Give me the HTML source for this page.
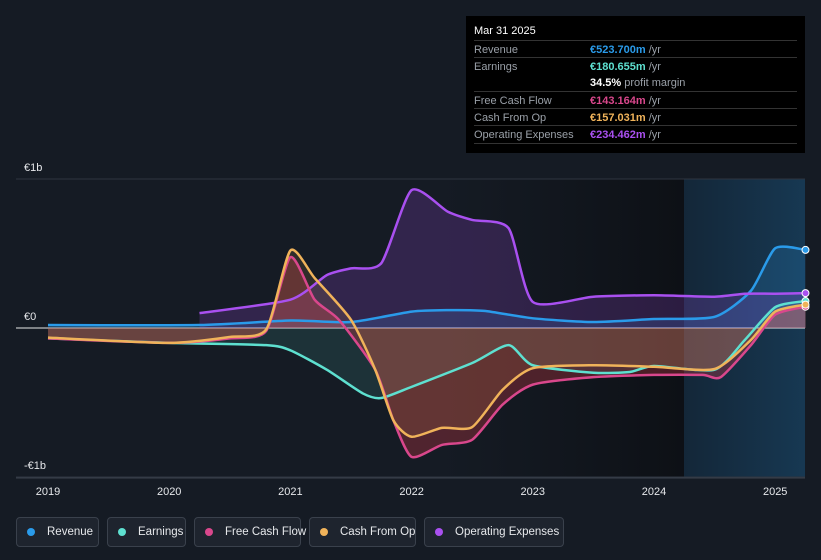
<!DOCTYPE html>
<html><head><meta charset="utf-8">
<style>
body{margin:0;background:#151b24;font-family:"Liberation Sans",sans-serif;}
#wrap{position:relative;width:821px;height:560px;overflow:hidden;background:#151b24;}
#tip{position:absolute;left:466px;top:16px;width:339px;height:137px;background:#000;color:#fff;font-size:11px;}
#tip .h{position:absolute;left:8px;top:9px;font-size:11px;}
#tip .r{position:absolute;left:8px;width:323px;height:17px;border-top:1px solid #333;}
#tip .r span.l{position:absolute;left:0;top:3px;color:#9aa0a8;}
#tip .r span.v{position:absolute;left:116px;top:3px;color:#9aa0a8;}
#legend{position:absolute;left:16px;top:517px;height:30px;}
.lg{position:absolute;top:0;height:30px;border:1px solid #3a414c;border-radius:4px;background:#1e242e;color:#e6e8eb;font-size:11.5px;display:flex;align-items:center;padding:0 0 0 10px;box-sizing:border-box;white-space:nowrap;}
.lg i{flex-shrink:0;width:8px;height:8px;border-radius:50%;display:inline-block;margin-right:12px;}
</style></head><body>
<div id="wrap">
<svg id="svg" width="821" height="560" style="position:absolute;left:0;top:0">
<defs>
<linearGradient id="fc" x1="0" y1="0" x2="1" y2="0"><stop offset="0" stop-color="#132a3e" stop-opacity="0.8"/><stop offset="1" stop-color="#173a55" stop-opacity="0.95"/></linearGradient>
<linearGradient id="pd" x1="0" y1="0" x2="1" y2="0"><stop offset="0" stop-color="#0e1117" stop-opacity="0"/><stop offset="1" stop-color="#0c0f14" stop-opacity="0.9"/></linearGradient>
</defs>
<rect x="440" y="179" width="244" height="298" fill="url(#pd)"/>
<rect x="684" y="179" width="121" height="298" fill="url(#fc)"/>
<g id="grid"></g>
<g id="areas"></g>
<g id="lines"></g>
<g id="axis"></g>
</svg>
<div id="tip">
<div class="h">Mar 31 2025</div>
<div class="r" style="top:24px"><span class="l">Revenue</span><span class="v"><b style="color:#2a9bea;font-weight:bold">€523.700m</b> /yr</span></div>
<div class="r" style="top:41px"><span class="l">Earnings</span><span class="v"><b style="color:#5ee0d0">€180.655m</b> /yr</span></div>
<div class="r" style="top:58px;border-top:none"><span class="v"><b style="color:#fff">34.5%</b> profit margin</span></div>
<div class="r" style="top:75px"><span class="l">Free Cash Flow</span><span class="v"><b style="color:#d9478c">€143.164m</b> /yr</span></div>
<div class="r" style="top:92px"><span class="l">Cash From Op</span><span class="v"><b style="color:#f0b35a">€157.031m</b> /yr</span></div>
<div class="r" style="top:109px;border-bottom:1px solid #333"><span class="l">Operating Expenses</span><span class="v"><b style="color:#a950f0">€234.462m</b> /yr</span></div>
</div>
<div id="legend">
<div class="lg" style="left:0;width:83px"><i style="background:#2a9bea"></i>Revenue</div>
<div class="lg" style="left:91px;width:79px"><i style="background:#5ee0d0"></i>Earnings</div>
<div class="lg" style="left:178px;width:107px"><i style="background:#d9478c"></i>Free Cash Flow</div>
<div class="lg" style="left:293px;width:107px"><i style="background:#f0b35a"></i>Cash From Op</div>
<div class="lg" style="left:408px;width:140px"><i style="background:#a950f0"></i>Operating Expenses</div>
</div>
</div>
<script>
const xTicks=[2019,2020,2021,2022,2023,2024,2025];
const yTicks=[1000,0,-1000];
const yTickLabels=["€1b","€0","-€1b"];
const revT=[2019,2020.25,2021,2021.5,2022,2022.3,2022.6,2023,2023.5,2024,2024.5,2024.8,2025,2025.25];
const revV=[20,20,50,40,110,120,115,65,40,60,75,250,535,524];
const earnT=[2019,2020,2020.8,2021,2021.3,2021.6,2021.75,2022,2022.5,2022.8,2023,2023.5,2023.8,2024,2024.5,2024.75,2025,2025.25];
const earnV=[-70,-100,-115,-150,-280,-440,-470,-395,-235,-115,-250,-300,-295,-255,-280,-80,140,181];
const fcfT=[2019,2020,2020.5,2020.8,2021,2021.2,2021.4,2021.7,2021.85,2022,2022.25,2022.5,2022.75,2023,2023.5,2024,2024.4,2024.55,2024.8,2025,2025.25];
const fcfV=[-70,-100,-70,-20,475,190,55,-280,-620,-865,-785,-750,-515,-380,-330,-315,-315,-330,-115,90,143];
const cfoT=[2019,2020,2020.5,2020.8,2021,2021.2,2021.5,2021.7,2021.85,2022,2022.25,2022.5,2022.75,2023,2023.5,2024,2024.5,2024.8,2025,2025.25];
const cfoV=[-65,-100,-60,-10,520,335,55,-280,-620,-730,-670,-665,-415,-270,-250,-260,-275,-80,110,157];
const opxT=[2020.25,2021,2021.3,2021.5,2021.75,2022,2022.3,2022.5,2022.8,2023,2023.5,2024,2024.5,2024.75,2025,2025.25];
const opxV=[100,190,355,400,435,925,780,725,670,175,210,220,210,230,230,234];
const X=t=>48+(t-2019)*121.2;
const Y=v=>328-v*0.149;
const NS="http://www.w3.org/2000/svg";
function mk(tag,attrs,parent){const e=document.createElementNS(NS,tag);for(const k in attrs)e.setAttribute(k,attrs[k]);parent.appendChild(e);return e;}
const grid=document.getElementById('grid'),axis=document.getElementById('axis'),areas=document.getElementById('areas'),lines=document.getElementById('lines');
yTicks.forEach((v,i)=>{
 const l=mk('line',{x1:16,x2:805,y1:Y(v),y2:Y(v),stroke:v===0?'#e8e8e8':'#2e3540','stroke-width':1},grid);
 
 
 const t=mk('text',{x:24,y:Y(v)-8,fill:'#e6e8eb','font-size':11,'font-family':'Liberation Sans'},axis);
 t.textContent=yTickLabels[i];
 
 
});
const ax=mk('line',{x1:16,x2:805,y1:478,y2:478,stroke:'#3a414c'},axis);


xTicks.forEach(t=>{
 const e=mk('text',{x:X(t),y:495,fill:'#e6e8eb','font-size':11,'text-anchor':'middle','font-family':'Liberation Sans'},axis);
 e.textContent=t;
 
 
});
function path(T,V){
 const p=T.map((t,i)=>[X(t),Y(V[i])]);
 let d='M'+p[0][0]+','+p[0][1];
 const k=9;
 for(let i=0;i<p.length-1;i++){
  const p0=p[i-1]||p[i],p1=p[i],p2=p[i+1],p3=p[i+2]||p2;
  const c1=[p1[0]+(p2[0]-p0[0])/k,p1[1]+(p2[1]-p0[1])/k];
  const c2=[p2[0]-(p3[0]-p1[0])/k,p2[1]-(p3[1]-p1[1])/k];
  d+=' C'+c1[0]+','+c1[1]+' '+c2[0]+','+c2[1]+' '+p2[0]+','+p2[1];
 }
 return d;
}
const series=[
 ['revenue',revT,revV,'#2a9bea',0.18],
 ['operating-expenses',opxT,opxV,'#a950f0',0.2],
 ['earnings',earnT,earnV,'#5ee0d0',0.12],
 ['free-cash-flow',fcfT,fcfV,'#d93a4a',0.3],
 ['cash-from-op',cfoT,cfoV,'#f0b35a',0.12]
];
const lineColors={'free-cash-flow':'#d9478c'};
series.forEach(([n,T,V,c,o])=>{
 const d=path(T,V);
 const a=mk('path',{d:d+' L'+X(T[T.length-1])+','+Y(0)+' L'+X(T[0])+','+Y(0)+' Z',fill:c,'fill-opacity':o,stroke:'none'},areas);
 
 
 const lc=lineColors[n]||c;
 const l=mk('path',{d:d,fill:'none',stroke:lc,'stroke-width':2.5},lines);
 
 
 const dot=mk('circle',{cx:X(T[T.length-1]),cy:Y(V[V.length-1]),r:3.5,fill:lc,stroke:'#fff','stroke-width':1},lines);
 
 
});
</script>
</body></html>
